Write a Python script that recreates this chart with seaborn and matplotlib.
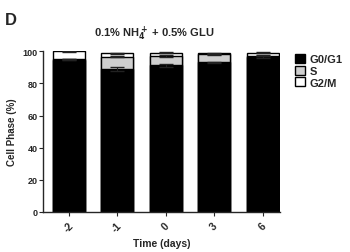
import matplotlib
matplotlib.use("Agg")
import matplotlib.pyplot as plt
import seaborn as sns
import numpy as np
import pandas as pd
from matplotlib.patches import Patch

days = ['-2', '-1', '0', '3', '6']
g0g1 = [94.8, 88.8, 91.2, 93.3, 96.6]
s_phase = [0.3, 8.0, 6.0, 5.0, 0.8]
g2m = [4.9, 2.0, 2.0, 0.5, 1.7]
g0g1_err = [0.4, 1.3, 1.1, 0.3, 0.5]
s_err = [0.2, 0.6, 0.6, 0.3, 0.3]
g2m_err = [0.2, 0.3, 0.4, 0.2, 0.3]
yticks = [0, 20, 40, 60, 80, 100]

sns.set_style("ticks")
plt.rcParams['font.family'] = ['Liberation Sans', 'DejaVu Sans']
plt.rcParams['font.weight'] = 'bold'
plt.rcParams['mathtext.default'] = 'bf'

df = pd.DataFrame({'day': days, 'g0g1': g0g1, 's': s_phase, 'g2m': g2m})
df['lvl1'] = df['g0g1']
df['lvl2'] = df['g0g1'] + df['s']
df['lvl3'] = df['lvl2'] + df['g2m']

fig = plt.figure(figsize=(3.5, 2.53), dpi=100)
ax = fig.add_axes([0.123, 0.159, 0.677, 0.634])

w = 0.66
sns.barplot(data=df, x='day', y='lvl3', color='white', edgecolor='black',
            linewidth=1.0, width=w, saturation=1, ax=ax, errorbar=None)
sns.barplot(data=df, x='day', y='lvl2', color='#cfcfcf', edgecolor='black',
            linewidth=1.0, width=w, saturation=1, ax=ax, errorbar=None)
sns.barplot(data=df, x='day', y='lvl1', color='black', edgecolor='black',
            linewidth=1.0, width=w, saturation=1, ax=ax, errorbar=None)

xpos = np.arange(len(days))
for lvl, err in [('lvl1', g0g1_err), ('lvl2', s_err), ('lvl3', g2m_err)]:
    ax.errorbar(xpos, df[lvl], yerr=err, fmt='none', ecolor='#222222',
                elinewidth=0.8, capsize=5, capthick=1.0, zorder=5)

ax.set_ylim(0, 100)
ax.set_xlim(-0.53, 4.36)
ax.set_yticks(yticks)
ax.set_yticklabels([str(t) for t in yticks], fontsize=6.5, fontweight='bold')
ax.set_xticks(xpos)
ax.set_xticklabels(days, fontsize=7.5, fontweight='bold', rotation=45, ha='center')
ax.tick_params(axis='both', direction='out', length=3, width=0.8, pad=1)
ax.tick_params(axis='x', pad=3)
sns.despine(ax=ax)
for sp in ['left', 'bottom']:
    ax.spines[sp].set_linewidth(1.0)

ax.set_ylabel('Cell Phase (%)', fontsize=7, fontweight='bold', labelpad=4)
ax.set_xlabel('Time (days)', fontsize=7.5, fontweight='bold', labelpad=3)

fig.text(0.44, 0.865, r'0.1% NH$_4^+$ + 0.5% GLU', ha='center', va='center',
         fontsize=8, fontweight='bold')
fig.text(0.015, 0.92, 'D', ha='left', va='center', fontsize=12, fontweight='bold')

handles = [Patch(facecolor='black', edgecolor='black', label='G0/G1'),
           Patch(facecolor='#cfcfcf', edgecolor='black', label='S'),
           Patch(facecolor='white', edgecolor='black', label='G2/M')]
leg = fig.legend(handles=handles, loc='upper left', bbox_to_anchor=(0.83, 0.80),
                 frameon=False, fontsize=8, handlelength=0.9, handleheight=0.9,
                 handletextpad=0.4, labelspacing=0.1, borderaxespad=0)
for t in leg.get_texts():
    t.set_fontweight('bold')

fig.savefig('out.png', dpi=100)
